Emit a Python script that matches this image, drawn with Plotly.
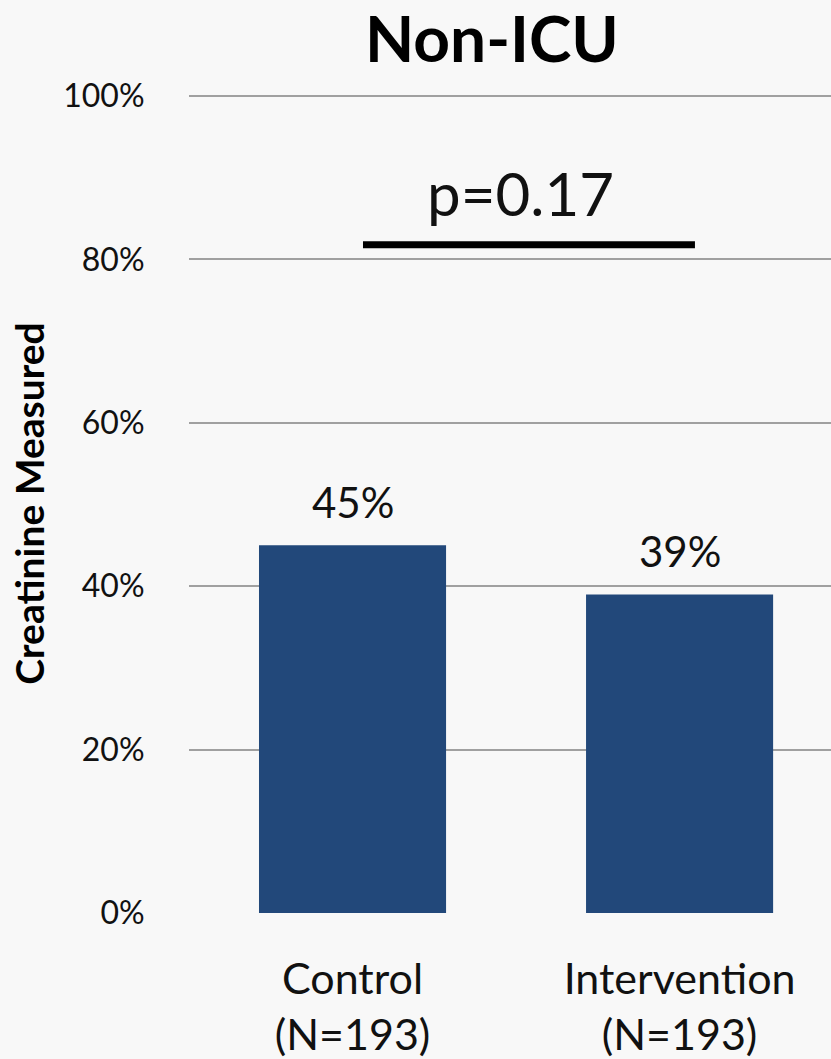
import plotly.graph_objects as go

categories = ["Control<br>(N=193)", "Intervention<br>(N=193)"]
values = [45, 39]
value_labels = ["45%", "39%"]
y_ticks = [0, 20, 40, 60, 80, 100]
y_ticklabels = ["0%", "20%", "40%", "60%", "80%", "100%"]
title_text = "Non-ICU"
y_title = "Creatinine Measured"
p_text = "p=0.17"

FONT = "Lato"
BAR = "#22487A"
BG = "#f8f8f8"

fig = go.Figure()
fig.add_trace(go.Bar(
    x=[0, 1], y=values, width=0.572, marker=dict(color=BAR, line=dict(width=0)),
    hoverinfo="skip",
))
for i, (v, t) in enumerate(zip(values, value_labels)):
    fig.add_annotation(x=i, y=v, xref="x", yref="y", text=t, showarrow=False,
                       yanchor="bottom", yshift=16,
                       font=dict(family=FONT, size=42, color="#111111"))

# significance bracket
fig.add_shape(type="line", xref="x", yref="y", x0=0.032, x1=1.047, y0=81.8, y1=81.8,
              line=dict(color="black", width=7))
fig.add_annotation(x=0.515, y=81.8, xref="x", yref="y", text=p_text, showarrow=False,
                   yanchor="bottom", yshift=14, font=dict(family=FONT, size=60, color="#111111"))

fig.add_annotation(x=0.472, y=1.0685, xref="paper", yref="paper", text="<b>" + title_text + "</b>",
                   showarrow=False, yanchor="middle",
                   font=dict(family=FONT, size=64, color="black"))

fig.update_layout(
    width=831, height=1059,
    margin=dict(l=189, r=0, t=94, b=146, autoexpand=False),
    paper_bgcolor=BG, plot_bgcolor=BG,
    showlegend=False,
    font=dict(family=FONT, color="#111111"),
    xaxis=dict(range=[-0.5, 1.463], tickmode="array", tickvals=[0, 1], ticktext=categories,
               showgrid=False, zeroline=False, showline=False,
               ticks="outside", ticklen=0, ticklabelstandoff=28,
               tickfont=dict(family=FONT, size=43, color="#111111")),
    yaxis=dict(range=[0, 100.25], tickmode="array", tickvals=y_ticks, ticktext=y_ticklabels,
               showgrid=True, gridcolor="#a0a0a0", gridwidth=2, zeroline=False, showline=False,
               ticks="outside", ticklen=0, ticklabelstandoff=37,
               tickfont=dict(family=FONT, size=32, color="#111111"),
               title=dict(text="<b>" + y_title + "</b>", standoff=6,
                          font=dict(family=FONT, size=39, color="black"))),
)
fig.write_html("out.html")
